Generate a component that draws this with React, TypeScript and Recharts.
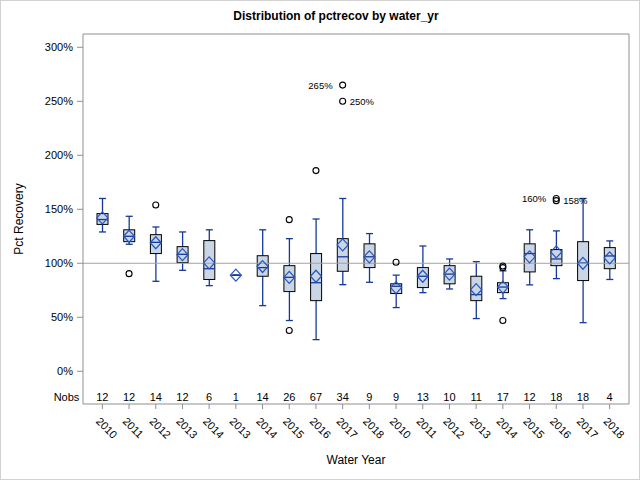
import React from "react";
import { ComposedChart, Bar, Scatter, XAxis, YAxis, ReferenceLine, CartesianGrid } from "recharts";

// groups in plot order (water years repeat for the two sites)
const years = ["2010", "2011", "2012", "2013", "2014", "2013", "2014", "2015", "2016", "2017", "2018", "2010", "2011", "2012", "2013", "2014", "2015", "2016", "2017", "2018"];
const nobs = [12, 12, 14, 12, 6, 1, 14, 26, 67, 34, 9, 9, 13, 10, 11, 17, 12, 18, 18, 4];

const whiskerLow = [129, 117.6, 83.3, 93.5, 79.3, 89, 60.8, 47, 29.3, 80.2, 82.4, 59, 72.8, 76.2, 48.8, 67.3, 80, 85.8, 45, 85];
const q1 = [136, 120, 109, 100.6, 85, 89, 88, 73.8, 65.4, 92.6, 96, 72, 77.5, 81, 65.4, 72.8, 92, 97.8, 84, 95];
const median = [140.5, 125, 119.4, 108.3, 95, 89, 96, 87, 82, 106, 106, 78.7, 88, 90, 71, 78, 109, 104, 100.3, 106.8];
const q3 = [146, 131, 126.5, 115.4, 121, 89, 107, 97.8, 109, 122.8, 118, 81, 96, 97.8, 88, 82, 118, 112.7, 120, 114.5];
const whiskerHigh = [160, 143.5, 133.6, 129, 131, 89, 131, 122.8, 141, 160, 127.5, 89, 116, 104, 101.5, 93, 131, 130, 160, 120.7];
const mean = [142, 125, 119, 108, 100.3, 89, 97, 87, 88, 117, 106, 77.5, 88, 90, 75.6, 78, 106, 110.5, 100, 105];

const outliers: number[][] = [[], [90.4], [154], [], [], [], [], [140.4, 37.7], [185.8], [265, 250], [], [101], [], [], [], [97.5, 96, 47], [], [160, 158], [], []];
const labelledOutliers = [265, 250, 160, 158];

const yTicks = [0, 50, 100, 150, 200, 250, 300];
const yDomain = [-30.3, 312.3];

const rows = years.map((yr, i) => ({
  key: `g${i}`,
  year: yr,
  n: nobs[i],
  lo: whiskerLow[i],
  q1: q1[i],
  med: median[i],
  q3: q3[i],
  hi: whiskerHigh[i],
  mean: mean[i],
  o1: outliers[i][0] ?? null,
  o2: outliers[i][1] ?? null,
  o3: outliers[i][2] ?? null,
}));

const FONT = "'Liberation Sans', Arial, sans-serif";
const BLUE = "#16389a";
const DIAMOND = "#2457c5";
const FRAME = "#8f8f8f";

const WhiskerShape = (props: any) => {
  const { x, y, width, height } = props;
  const top = Math.min(y, y + height);
  const bot = Math.max(y, y + height);
  const cx = x + width / 2;
  const cap = 3.5;
  return (
    <g stroke={BLUE} strokeWidth={1.3}>
      <line x1={cx} x2={cx} y1={top} y2={bot} />
      <line x1={cx - cap} x2={cx + cap} y1={top} y2={top} />
      <line x1={cx - cap} x2={cx + cap} y1={bot} y2={bot} />
    </g>
  );
};

const BoxShape = (props: any) => {
  const { x, y, width, height, payload } = props;
  const top = Math.min(y, y + height);
  const h = Math.abs(height);
  const span = payload.q3 - payload.q1;
  const my = span > 0 ? top + ((payload.q3 - payload.med) / span) * h : top;
  return (
    <g>
      {h > 0.5 && <rect x={x} y={top} width={width} height={h} fill="#CAD5E5" stroke="#000" strokeWidth={1} />}
      <line x1={x} x2={x + width} y1={my} y2={my} stroke={BLUE} strokeWidth={1.3} />
    </g>
  );
};

const Diamond = (props: any) => {
  const { cx, cy } = props;
  if (cx == null || cy == null) return <g />;
  const w = 5.5, h = 6;
  return <polygon points={`${cx - w},${cy} ${cx},${cy - h} ${cx + w},${cy} ${cx},${cy + h}`} fill="none" stroke={DIAMOND} strokeWidth={1.2} />;
};

const outlierShape = (slot: number) => (props: any) => {
  const { cx, cy, payload } = props;
  const v = payload ? payload[`o${slot + 1}`] : null;
  if (v == null || cx == null || cy == null) return <g />;
  const labelled = labelledOutliers.includes(v);
  const left = slot === 0;
  return (
    <g>
      <circle cx={cx} cy={cy} r={3} fill="none" stroke="#000" strokeWidth={1.1} />
      {labelled && (
        <text x={left ? cx - 10 : cx + 7} y={cy + 3.5} textAnchor={left ? "end" : "start"} fontSize={9.5} fill="#000" fontFamily={FONT}>
          {`${v}%`}
        </text>
      )}
    </g>
  );
};

const XTick = (props: any) => {
  const { x, y, payload } = props;
  const i = Number(String(payload.value).slice(1));
  return (
    <g fontFamily={FONT} fontSize={11} fill="#000">
      {i === 0 && (
        <text x={x - 23} y={y - 10} textAnchor="end" fill="#000">
          Nobs
        </text>
      )}
      <text x={x} y={y - 10} textAnchor="middle" fill="#000">
        {nobs[i]}
      </text>
      <text x={x - 7} y={y + 11} transform={`rotate(45 ${x - 7} ${y + 11})`} fill="#000">
        {years[i]}
      </text>
    </g>
  );
};

const YLabel = (props: any) => {
  const vb = props.viewBox || { x: 0, y: 34, height: 370 };
  const cx = vb.x + 23;
  const cy = vb.y + vb.height / 2;
  return (
    <text x={cx} y={cy} transform={`rotate(-90 ${cx} ${cy})`} textAnchor="middle" fontSize={12} fill="#000" fontFamily={FONT}>
      Pct Recovery
    </text>
  );
};

export default function App() {
  return (
    <div style={{ position: "absolute", left: 0, top: 0, width: 640, height: 480, background: "#fff", fontFamily: FONT }}>
      <ComposedChart width={640} height={480} data={rows} margin={{ top: 34, right: 11, bottom: 0, left: 0 }}>
        {/* top and right edges of the plot frame */}
        <CartesianGrid
          stroke={FRAME}
          horizontalCoordinatesGenerator={(p: any) => [p.offset.top]}
          verticalCoordinatesGenerator={(p: any) => [p.offset.left + p.offset.width]}
        />
        <XAxis
          xAxisId="main"
          dataKey="key"
          interval={0}
          allowDuplicatedCategory={false}
          padding={{ left: 6, right: 6 }}
          height={76}
          tickSize={5}
          tickMargin={2}
          tick={<XTick />}
          tickLine={{ stroke: FRAME }}
          axisLine={{ stroke: FRAME }}
          label={{ value: "Water Year", position: "insideBottom", offset: 16, fill: "#000", fontSize: 12 }}
        />
        <XAxis xAxisId="box" dataKey="key" hide height={0} allowDuplicatedCategory={false} padding={{ left: 6, right: 6 }} />
        <YAxis
          type="number"
          domain={yDomain}
          allowDataOverflow
          ticks={yTicks}
          interval={0}
          tickFormatter={(v) => `${v}%`}
          width={83}
          tickSize={6}
          tickMargin={4}
          tick={{ fontSize: 11, fill: "#000" }}
          tickLine={{ stroke: FRAME }}
          axisLine={{ stroke: FRAME }}
          label={<YLabel />}
        />
        <Bar xAxisId="main" dataKey={(d: any) => [d.lo, d.hi]} barSize={11} shape={<WhiskerShape />} isAnimationActive={false} />
        <Bar xAxisId="box" dataKey={(d: any) => [d.q1, d.q3]} barSize={11} shape={<BoxShape />} isAnimationActive={false} />
        <ReferenceLine xAxisId="main" y={100} stroke="#a3a3a3" strokeWidth={1} />
        <Scatter xAxisId="main" dataKey="mean" shape={(p: any) => <Diamond {...p} />} isAnimationActive={false} />
        <Scatter xAxisId="main" dataKey="o1" shape={outlierShape(0)} isAnimationActive={false} />
        <Scatter xAxisId="main" dataKey="o2" shape={outlierShape(1)} isAnimationActive={false} />
        <Scatter xAxisId="main" dataKey="o3" shape={outlierShape(2)} isAnimationActive={false} />
      </ComposedChart>
      <div style={{ position: "absolute", left: 0, top: 9, width: 672, textAlign: "center", fontSize: 12, fontWeight: "bold", color: "#000", lineHeight: "14px" }}>
        Distribution of pctrecov by water_yr
      </div>
      <div style={{ position: "absolute", left: 0, top: 0, width: 640, height: 480, boxSizing: "border-box", border: "1px solid #d2d2d2", pointerEvents: "none" }} />
    </div>
  );
}
